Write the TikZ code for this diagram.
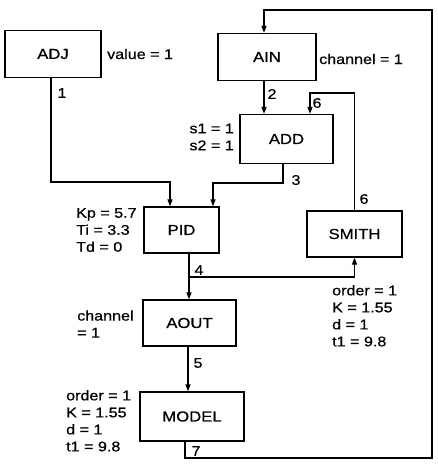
\documentclass[tikz,border=0pt]{standalone}
\usepackage{fontspec}
\setmainfont{Liberation Sans}[FakeStretch=1.15,FakeBold=0.6]
\usetikzlibrary{arrows.meta}
\begin{document}
\begin{tikzpicture}[x=1pt,y=-1pt,
  blk/.style={draw,line width=1.3pt,minimum width=#1,minimum height=47pt,inner sep=0pt,font=\fontsize{14.5}{17}\selectfont},
  blk/.default=95pt,
  wire/.style={line width=1.3pt},
  arr/.style={wire,-{Triangle[length=7pt,width=5pt]}},
  lbl/.style={font=\fontsize{14}{17}\selectfont,inner sep=0pt,align=left},
  num/.style={font=\fontsize{14}{16}\selectfont,inner sep=0pt}]
\useasboundingbox (0,0) rectangle (437,465);
\node[blk=96pt] (adj) at (53,54) {ADJ};
\node[blk=98pt] (ain) at (267,57) {AIN};
\node[blk=93pt,minimum height=49pt] (add) at (286.5,139) {ADD};
\node[blk=75pt,minimum height=46pt] (pid) at (181.5,230) {PID};
\node[blk=95pt,minimum height=46pt] (smith) at (354.5,234) {SMITH};
\node[blk=93pt,minimum height=46pt] (aout) at (189.5,323) {AOUT};
\node[blk=104pt,minimum height=49pt] (model) at (192,416.5) {MODEL};
% labels
\node[lbl,anchor=west] (v1) at (107,54) {value = 1};
\node[lbl,anchor=west] (c1) at (319,59) {channel = 1};
\node[lbl,anchor=east] (s12) at (234,137) {s1 = 1\\s2 = 1};
\node[lbl,anchor=west] (kp) at (76,230) {Kp = 5.7\\Ti = 3.3\\Td = 0};
\node[lbl,anchor=north west] (sp) at (332,285) {order = 1\\K = 1.55\\d = 1\\t1 = 9.8};
\node[lbl,anchor=west] (ch) at (77,324) {channel\\= 1};
\node[lbl,anchor=north west] (mp) at (66,390) {order = 1\\K = 1.55\\d = 1\\t1 = 9.8};
% coordinates
\coordinate (p4) at (189,277);
\coordinate (p7) at (185,458);
% connectors
\draw[arr] (adj.south -| 51,0) |- (170,182) -- (pid.north -| 170,0);
\draw[arr] (ain.south -| 264,0) -- (add.north -| 264,0);
\draw[arr] (smith.north) |- (310,93) -- (add.north -| 310,0);
\draw[arr] (add.south -| 283,0) |- (213,183) -- (pid.north -| 213,0);
\draw[arr] (pid.south -| 189,0) -- (aout.north -| 189,0);
\draw[arr] (p4) -| (smith.south);
\draw[arr] (aout.south -| 188,0) -- (model.north -| 188,0);
\draw[arr] (model.south -| 185,0) -- (p7) -| (432,10) -| (ain.north -| 264,0);
% numbers
\node[num] (n1) at (62,93) {1};
\node[num] (n2) at (272,94) {2};
\node[num] (n6a) at (317,103) {6};
\node[num] (n3) at (296,180) {3};
\node[num] (n6b) at (364,199) {6};
\node[num] (n4) at (199,270) {4};
\node[num] (n5) at (198,363) {5};
\node[num] (n7) at (196,451) {7};
\end{tikzpicture}
\end{document}
